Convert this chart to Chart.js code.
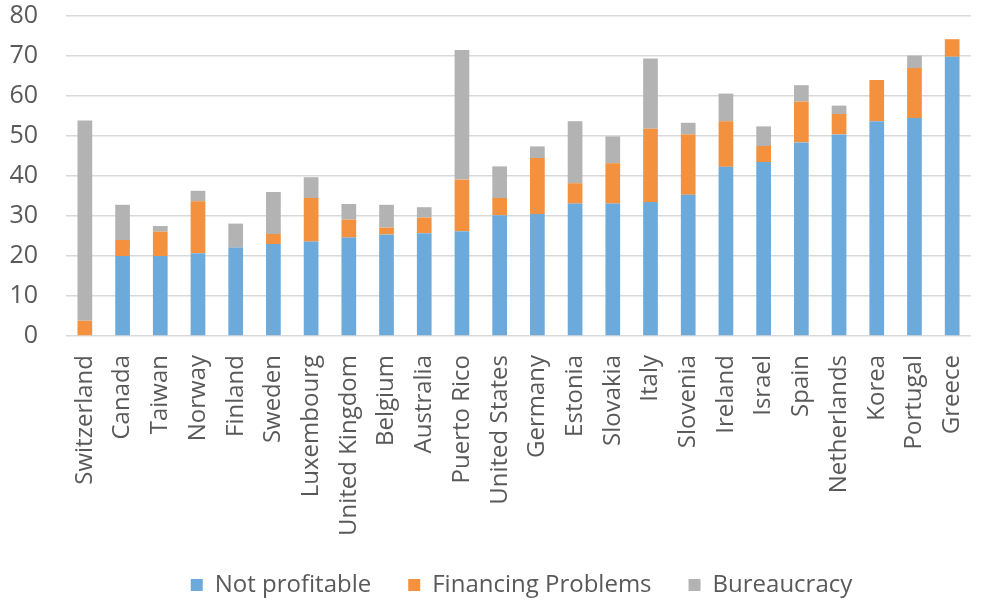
<html>
    <head>
        <meta charset="UTF-8">
        <title>Reasons</title>
        <script src="https://cdn.jsdelivr.net/npm/chart.js"></script>
        <style>
            html, body {
                margin: 0;
                padding: 0;
                overflow: hidden;
                background: #ffffff;
            }
            .chart_container {
                width: 1000px;
                height: 601px;
            }
        </style>
    </head>
    <body>
        <div class='chart_container'>
            <canvas id='reasons'></canvas>
        </div>

        <script>
            const countries = ['Switzerland', 'Canada', 'Taiwan', 'Norway', 'Finland', 'Sweden', 'Luxembourg',
                'United Kingdom', 'Belgium', 'Australia', 'Puerto Rico', 'United States', 'Germany', 'Estonia',
                'Slovakia', 'Italy', 'Slovenia', 'Ireland', 'Israel', 'Spain', 'Netherlands', 'Korea', 'Portugal', 'Greece'];
            const notProfitable = [0, 20.0, 20.0, 20.7, 22.1, 23.0, 23.6, 24.6, 25.4, 25.7, 26.2, 30.2,
                30.5, 33.1, 33.1, 33.5, 35.3, 42.3, 43.5, 48.4, 50.4, 53.7, 54.5, 69.8];
            const financing = [3.8, 4.0, 6.1, 13.0, 0, 2.5, 10.9, 4.5, 1.7, 3.9, 12.9, 4.3,
                14.0, 5.1, 10.1, 18.3, 15.1, 11.4, 4.0, 10.2, 5.1, 10.3, 12.5, 4.4];
            const bureaucracy = [50.1, 8.8, 1.4, 2.6, 6.0, 10.5, 5.2, 3.9, 5.7, 2.6, 32.4, 7.9,
                2.9, 15.5, 6.7, 17.6, 2.9, 6.9, 4.9, 4.1, 2.1, 0, 3.1, 0];
            const yTicks = [0, 10, 20, 30, 40, 50, 60, 70, 80];

            const textColor = '#595959';
            const fontFamily = "'Open Sans', sans-serif";

            // legend in the original sits a bit right of centre
            const legendShift = {
                id: 'legendShift',
                afterLayout(chart) {
                    chart.legend.left += 17;
                    chart.legend.right += 17;
                }
            };

            function createChart() {
                const ctx = document.getElementById('reasons');
                const data = {
                    labels: countries,
                    datasets: [
                        { label: 'Not profitable', data: notProfitable, backgroundColor: '#6caadc' },
                        { label: 'Financing Problems', data: financing, backgroundColor: '#f3913e' },
                        { label: 'Bureaucracy', data: bureaucracy, backgroundColor: '#b3b3b3' }
                    ]
                };
                const config = {
                    type: 'bar',
                    data: data,
                    plugins: [legendShift],
                    options: {
                        responsive: true,
                        maintainAspectRatio: false,
                        animation: false,
                        layout: {
                            padding: { left: 10, right: 1, top: 16, bottom: -6 }
                        },
                        datasets: {
                            bar: {
                                categoryPercentage: 1.0,
                                barPercentage: 0.39
                            }
                        },
                        plugins: {
                            legend: {
                                position: 'bottom',
                                labels: {
                                    boxWidth: 12,
                                    boxHeight: 12,
                                    padding: 37,
                                    color: textColor,
                                    font: { family: fontFamily, size: 24 }
                                }
                            },
                            tooltip: { enabled: false }
                        },
                        scales: {
                            x: {
                                stacked: true,
                                grid: { display: false, drawTicks: false, tickLength: 0 },
                                border: { display: false },
                                afterFit: function (axis) {
                                    axis.height = 200;
                                },
                                ticks: {
                                    color: textColor,
                                    font: { family: fontFamily, size: 24 },
                                    minRotation: 90,
                                    maxRotation: 90,
                                    autoSkip: false,
                                    padding: 19
                                }
                            },
                            y: {
                                stacked: true,
                                min: 0,
                                max: 80,
                                afterBuildTicks: function (axis) {
                                    axis.ticks = yTicks.map(v => ({ value: v }));
                                },
                                afterFit: function (axis) {
                                    axis.width = 56;
                                    axis.paddingTop = 0;
                                    axis.paddingBottom = 0;
                                },
                                grid: { color: '#d9d9d9', lineWidth: 1.5, drawTicks: false },
                                border: { display: false },
                                ticks: {
                                    color: textColor,
                                    font: { family: fontFamily, size: 25 },
                                    padding: 28
                                }
                            }
                        }
                    }
                };
                new Chart(ctx, config);
            }
            createChart();
        </script>
    </body>
</html>
